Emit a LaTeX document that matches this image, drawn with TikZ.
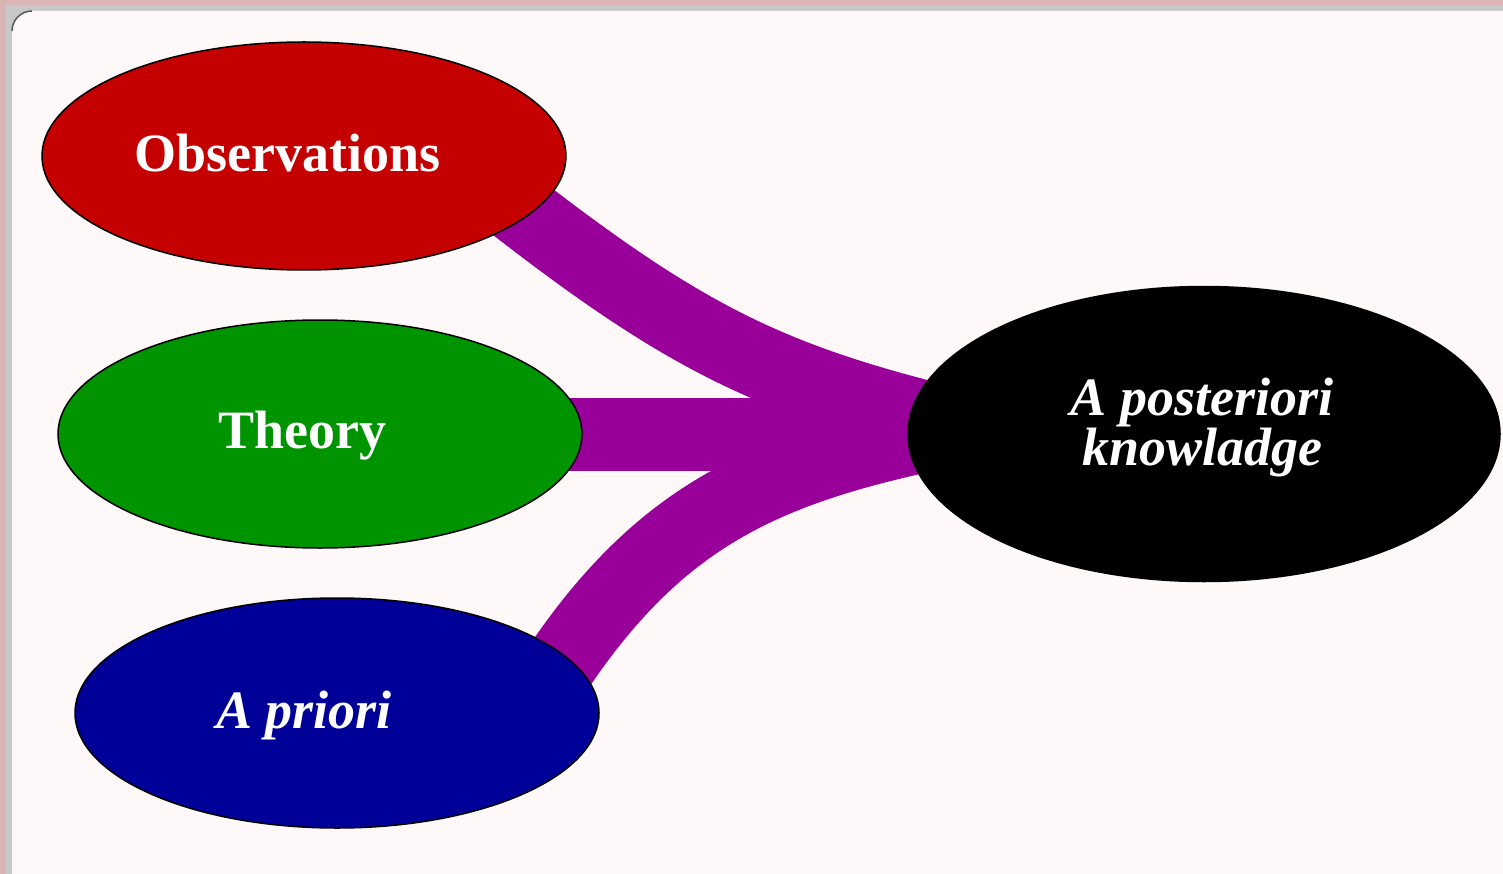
\documentclass[tikz,border=0pt]{standalone}
\usepackage{fontspec}
\setmainfont{Liberation Serif}
\usetikzlibrary{shapes.geometric}
\definecolor{bgpink}{HTML}{FEF8F8}
\definecolor{framepink}{HTML}{D9B5B5}
\definecolor{framegrey}{HTML}{C8C8C8}
\definecolor{obsred}{HTML}{C40000}
\definecolor{theogreen}{HTML}{009400}
\definecolor{apriblue}{HTML}{000099}
\definecolor{linkpurple}{HTML}{990099}
\pgfdeclarelayer{background}
\pgfsetlayers{background,main}
\tikzset{
  blob/.style={ellipse, draw=black, line width=1.5pt, inner sep=0pt},
  lbl/.style={text=white, font=\fontsize{54}{50}\selectfont\bfseries},
  lbli/.style={text=white, font=\fontsize{54}{50}\selectfont\bfseries\itshape},
  link/.style={draw=linkpurple, line width=73pt, line cap=butt}
}
\begin{document}
\begin{tikzpicture}[x=1pt,y=1pt]
\useasboundingbox (0,0) rectangle (1503,-874);
\clip (0,0) rectangle (1503,-874);
% frame
\begin{pgfonlayer}{background}
\fill[framepink] (0,0) rectangle (1503,-874);
\fill[framegrey] (6,-5) rectangle (1503,-874);
\fill[bgpink, rounded corners=20pt] (12,-11) rectangle (1540,-900);
\draw[black!65, line width=1.5pt] (12,-31) arc[start angle=180, end angle=90, radius=20];
\end{pgfonlayer}
% nodes
\node[blob, fill=obsred, minimum width=524pt, minimum height=228pt] (obs) at (304,-156) {};
\node[blob, fill=theogreen, minimum width=524pt, minimum height=228pt] (theo) at (320,-434) {};
\node[blob, fill=apriblue, minimum width=524pt, minimum height=230pt] (apri) at (337,-713) {};
\node[blob, fill=black, minimum width=592pt, minimum height=295pt] (post) at (1204,-434) {};
% labels
\node[lbl, anchor=base] (obsT) at (287.5,-172) {Observations};
\node[lbl, anchor=base] (theoT) at (302.5,-448) {Theory};
\node[lbli, anchor=base] (apriT) at (304,-728) {A priori};
\node[lbli, align=center] (postT) at (1202,-428) {A posteriori\\knowladge};
% links
\begin{pgfonlayer}{background}
\draw[link, shorten <=-30pt, shorten >=-30pt] (obs.-15) .. controls +(-38:190) and +(166:150) .. (post.176);
\draw[link] (theo.center) -- (post.center);
\draw[link, shorten <=-30pt, shorten >=-30pt] (apri.14) .. controls +(57:165) and +(192:150) .. (post.181);
\end{pgfonlayer}
\end{tikzpicture}
\end{document}
